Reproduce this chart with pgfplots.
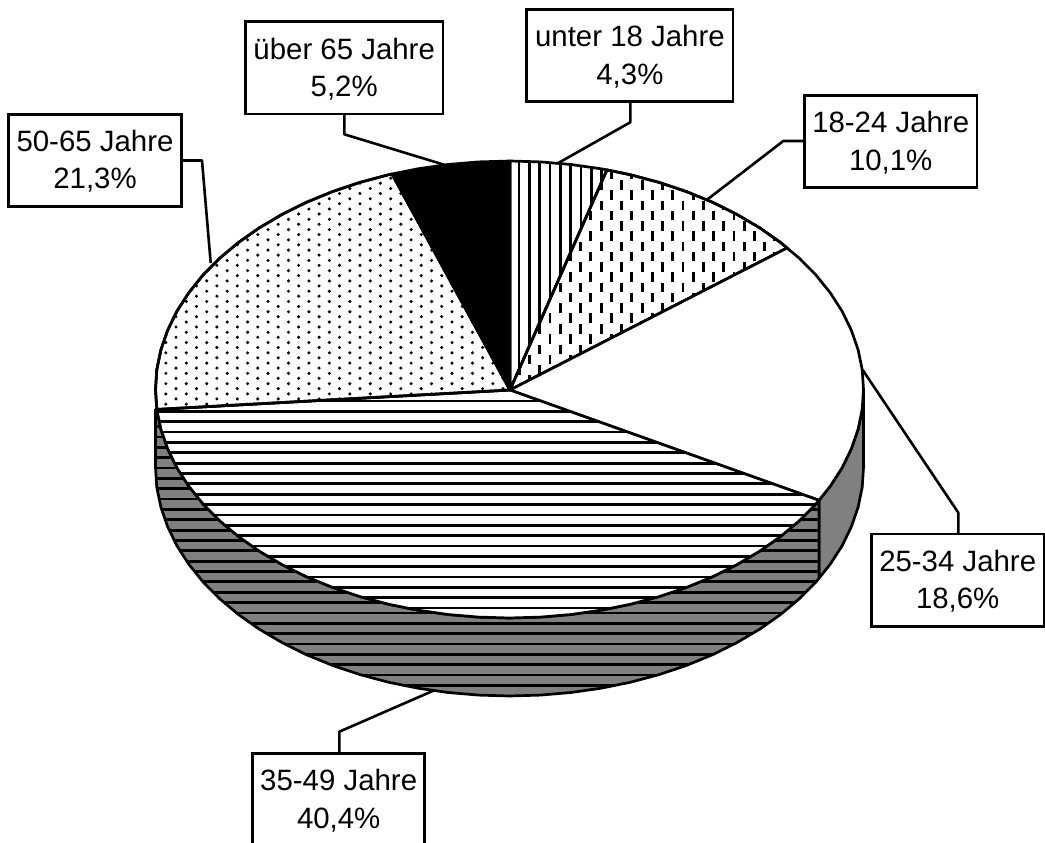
\documentclass[border=0pt]{standalone}
\usepackage{fontspec}
\setmainfont{Liberation Sans}
\usepackage{pgfplots}
\pgfplotsset{compat=1.18}
\usetikzlibrary{patterns}

% dot and dash fills, tiles
\pgfdeclarepatternformonly{dashes}{\pgfpoint{-1pt}{-5pt}}{\pgfpoint{21.44pt}{21.54pt}}{\pgfpoint{20.44pt}{20.54pt}}{
  \pgfpathrectangle{\pgfpoint{17.1pt}{6.5pt}}{\pgfpoint{2.9pt}{9.5pt}}\pgfusepath{fill}
  \pgfpathrectangle{\pgfpoint{7.05pt}{-4.03pt}}{\pgfpoint{2.9pt}{9.5pt}}\pgfusepath{fill}}
\pgfdeclarepatternformonly{sdots}{\pgfpoint{-1pt}{-1pt}}{\pgfpoint{21.44pt}{11.27pt}}{\pgfpoint{20.44pt}{10.27pt}}{
  \pgfpathcircle{\pgfpoint{2.34pt}{7.47pt}}{1.7pt}\pgfusepath{fill}
  \pgfpathcircle{\pgfpoint{12.48pt}{2.5pt}}{1.7pt}\pgfusepath{fill}}

\tikzset{
  pie/.style={draw=black,line width=2.7pt,line join=round,mark=none},
  box/.style={draw=black,line width=2.7pt,line join=miter,fill=white,mark=none},
  lead/.style={draw=black,line width=2.6pt,line join=round,mark=none},
  hatch/.style={draw=black,line width=2.8pt,mark=none},
  lab/.style={anchor=base,inner sep=0pt,font=\fontsize{29.4}{36}\selectfont},
}

% polygon #3 filled with #1 and ruled with horizontal lines at the heights in #2
\newcommand{\ruled}[3]{
  \addplot[fill=#1,draw=none,mark=none] coordinates {#3} --cycle;
  \begin{scope}
    \clip plot coordinates {#3};
    \pgfplotsinvokeforeach{#2}{\addplot[hatch] coordinates {(150,##1) (870,##1)};}
  \end{scope}
  \addplot[pie] coordinates {#3} --cycle;
}

\begin{document}
\begin{tikzpicture}
\begin{axis}[
  scale only axis,
  width=1045pt,
  height=843pt,
  xmin=0,xmax=1045,
  ymin=0,ymax=843,
  y dir=reverse,
  hide axis,
  clip=true,
]
% keep the full frame in the bounding box (hide axis drops it)
\path (axis cs:0,0) (axis cs:1045,843);
% side wall, 25-34 Jahre
\addplot[pie,fill=gray] coordinates {
  (863.5,389.5) (862.2,409.4) (858.1,429.2) (851.4,448.6) (842.2,467.6) (830.3,486.1) (819,500.3)
  (819,578.3) (830.3,564.1) (842.2,545.6) (851.4,526.6) (858.1,507.2) (862.2,487.4) (863.5,467.5)
} --cycle;
% side wall, 35-49 Jahre
\ruled{gray}{416.2,426.6,436.9,447.3,457.6,468,478.3,488.7,499,509.4,519.7,530.1,540.4,550.8,561.1,571.5,581.8,592.2,602.5,612.9,623.2,633.6,643.9,654.3,664.6,674.9,685.3}{
  (819,500.3) (816.1,503.8) (799.5,520.6) (780.7,536.4) (759.8,551.1) (737.1,564.5) (712.6,576.7)
  (686.5,587.4) (659.1,596.6) (630.6,604.2) (601.1,610.2) (571,614.5) (540.4,617.1) (509.5,618)
  (478.6,617.1) (448,614.5) (417.9,610.2) (388.4,604.2) (359.9,596.6) (332.5,587.4) (306.4,576.7)
  (281.9,564.5) (259.2,551.1) (238.3,536.4) (219.5,520.6) (202.9,503.8) (188.7,486.1) (176.8,467.6)
  (167.6,448.6) (160.9,429.2) (156.8,409.4) (155.5,409.4) (155.5,467.5)
  (156.8,487.4) (160.9,507.2) (167.6,526.6) (176.8,545.6) (188.7,564.1) (202.9,581.8) (219.5,598.6)
  (238.3,614.4) (259.2,629.1) (281.9,642.5) (306.4,654.7) (332.5,665.4) (359.9,674.6) (388.4,682.2)
  (417.9,688.2) (448,692.5) (478.6,695.1) (509.5,696) (540.4,695.1) (571,692.5) (601.1,688.2)
  (630.6,682.2) (659.1,674.6) (686.5,665.4) (712.6,654.7) (737.1,642.5) (759.8,629.1) (780.7,614.4)
  (799.5,598.6) (816.1,581.8) (819,578.3)
}
% top: unter 18 Jahre
\addplot[fill=white,draw=none,mark=none] coordinates {
  (510,390) (510,161) (540.4,161.9) (571,164.5) (601.1,168.8) (607,169.9)
} --cycle;
\begin{scope}
  \clip plot coordinates {(510,390) (510,161) (540.4,161.9) (571,164.5) (601.1,168.8) (607,169.9)};
  \pgfplotsinvokeforeach{519,529.3,539.7,550,560.3,570.7,581,591.3,601.7}{\addplot[hatch] coordinates {(#1,150) (#1,400)};}
\end{scope}
\addplot[pie] coordinates {
  (510,390) (510,161) (540.4,161.9) (571,164.5) (601.1,168.8) (607,169.9)
} --cycle;
% top: 18-24 Jahre
\addplot[pie,fill=white,postaction={pattern=dashes,pattern color=black}] coordinates {
  (510,390) (607,169.9) (630.6,174.8) (659.1,182.4) (686.5,191.6) (712.6,202.3) (737.1,214.5)
  (759.8,227.9) (780.7,242.6) (787.1,248)
} --cycle;
% top: 25-34 Jahre
\addplot[pie,fill=white] coordinates {
  (510,390) (787.1,248) (799.5,258.4) (816.1,275.2) (830.3,292.9) (842.2,311.4) (851.4,330.4)
  (858.1,349.8) (862.2,369.6) (863.5,389.5) (862.2,409.4) (858.1,429.2) (851.4,448.6) (842.2,467.6)
  (830.3,486.1) (819,500.3)
} --cycle;
% top: 35-49 Jahre
\ruled{white}{401,411.4,421.7,432,442.4,452.8,463.1,473.5,483.8,494.2,504.5,514.9,525.2,535.6,545.9,556.3,566.6,576.9,587.3,597.6,608}{
  (510,390) (819,500.3) (816.1,503.8) (799.5,520.6) (780.7,536.4) (759.8,551.1) (737.1,564.5)
  (712.6,576.7) (686.5,587.4) (659.1,596.6) (630.6,604.2) (601.1,610.2) (571,614.5) (540.4,617.1)
  (509.5,618) (478.6,617.1) (448,614.5) (417.9,610.2) (388.4,604.2) (359.9,596.6) (332.5,587.4)
  (306.4,576.7) (281.9,564.5) (259.2,551.1) (238.3,536.4) (219.5,520.6) (202.9,503.8) (188.7,486.1)
  (176.8,467.6) (167.6,448.6) (160.9,429.2) (156.8,409.4)
}
% top: 50-65 Jahre
\addplot[pie,fill=white,postaction={pattern=sdots,pattern color=black}] coordinates {
  (510,390) (156.8,409.4) (155.5,389.5) (156.8,369.6) (160.9,349.8) (167.6,330.4) (176.8,311.4)
  (188.7,292.9) (202.9,275.2) (219.5,258.4) (238.3,242.6) (259.2,227.9) (281.9,214.5) (306.4,202.3)
  (332.5,191.6) (359.9,182.4) (388.4,174.8) (392,174)
} --cycle;
% top: ueber 65 Jahre
\addplot[pie,fill=black] coordinates {
  (510,390) (392,174) (417.9,168.8) (448,164.5) (478.6,161.9) (510,161)
} --cycle;

% leader lines
\addplot[lead] coordinates {(630.3,101.7) (630.3,122.3) (558.3,163)};
\addplot[lead] coordinates {(344.3,114) (344.3,134.3) (445,165)};
\addplot[lead] coordinates {(181.7,160.5) (202,160.5) (210.7,263)};
\addplot[lead] coordinates {(804.3,141) (783.3,141) (706.7,200)};
\addplot[lead] coordinates {(958.3,534) (958.3,512.7) (862.7,370)};
\addplot[lead] coordinates {(339.3,753.3) (339.3,731.7) (433.3,690.7)};

% label boxes
\addplot[box] coordinates {(245.3,21.7) (443,21.7) (443,114) (245.3,114)} --cycle;
\addplot[box] coordinates {(526.7,9.7) (733,9.7) (733,101.7) (526.7,101.7)} --cycle;
\addplot[box] coordinates {(8.3,114.3) (181.7,114.3) (181.7,206.7) (8.3,206.7)} --cycle;
\addplot[box] coordinates {(804.3,95.3) (977,95.3) (977,187.3) (804.3,187.3)} --cycle;
\addplot[box] coordinates {(871.3,534) (1044,534) (1044,626.7) (871.3,626.7)} --cycle;
\addplot[box] coordinates {(252.7,753.3) (424.7,753.3) (424.7,860) (252.7,860)} --cycle;

\node[lab] at (axis cs:344.2,59.2) {über 65 Jahre};
\node[lab] at (axis cs:344.2,96.7) {5,2\%};
\node[lab] at (axis cs:629.9,46.7) {unter 18 Jahre};
\node[lab] at (axis cs:629.9,84.7) {4,3\%};
\node[lab] at (axis cs:95,151.8) {50-65 Jahre};
\node[lab] at (axis cs:95,188.8) {21,3\%};
\node[lab] at (axis cs:890.7,132.8) {18-24 Jahre};
\node[lab] at (axis cs:890.7,170) {10,1\%};
\node[lab] at (axis cs:957.7,571.5) {25-34 Jahre};
\node[lab] at (axis cs:957.7,608.5) {18,6\%};
\node[lab] at (axis cs:338.7,790.8) {35-49 Jahre};
\node[lab] at (axis cs:338.7,828) {40,4\%};
\end{axis}
\end{tikzpicture}
\end{document}
